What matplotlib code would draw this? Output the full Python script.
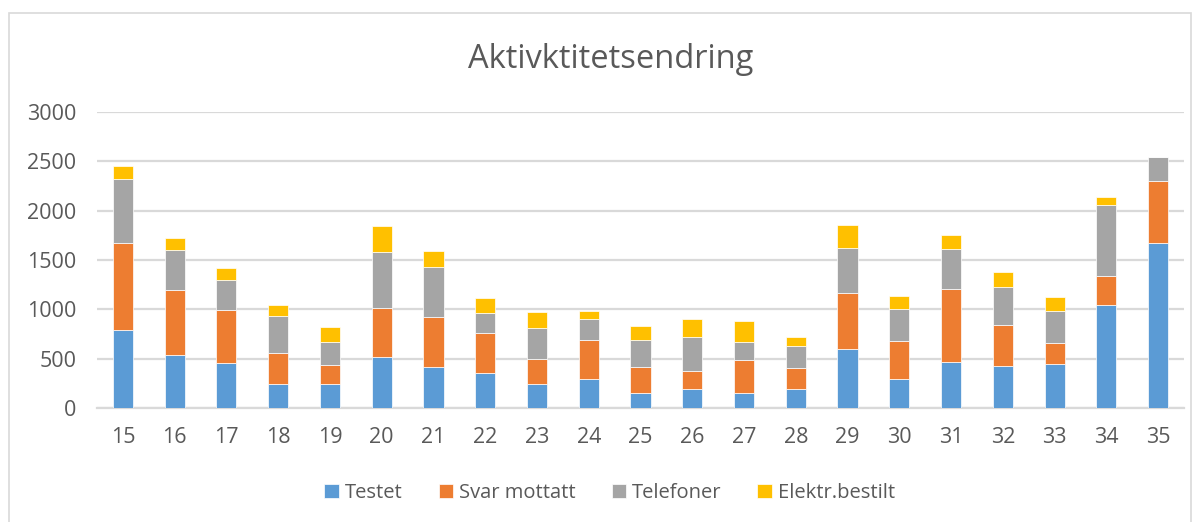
import matplotlib
matplotlib.use("Agg")
import matplotlib.pyplot as plt
from matplotlib.patches import Rectangle
import numpy as np

plt.rcParams['font.family'] = ['Open Sans', 'DejaVu Sans']

weeks = ['15', '16', '17', '18', '19', '20', '21', '22', '23', '24', '25',
         '26', '27', '28', '29', '30', '31', '32', '33', '34', '35']
testet = [790, 534, 459, 240, 247, 520, 419, 351, 240, 297, 155,
          196, 149, 189, 598, 291, 470, 429, 449, 1047, 1676]
svar_mottatt = [886, 662, 538, 321, 189, 497, 507, 406, 260, 395, 264,
                179, 341, 213, 571, 391, 739, 412, 206, 287, 624]
telefoner = [648, 405, 304, 375, 236, 564, 503, 202, 307, 207, 273,
             348, 175, 226, 456, 318, 406, 389, 328, 727, 244]
elektr_bestilt = [129, 118, 121, 108, 149, 260, 159, 156, 169, 87, 136,
                  182, 220, 88, 233, 138, 135, 152, 142, 81, 0]

series = [('Testet', testet, '#5B9BD5'),
          ('Svar mottatt', svar_mottatt, '#ED7D31'),
          ('Telefoner', telefoner, '#A5A5A5'),
          ('Elektr.bestilt', elektr_bestilt, '#FFC000')]

txt = '#595959'
grid = '#D9D9D9'

fig = plt.figure(figsize=(12, 5.22), dpi=100)
ax = fig.add_axes([97 / 1200, 1 - 408 / 522, (1184 - 97) / 1200, (408 - 112) / 522])

# chart frame
fig.patches.append(Rectangle((9 / 1200, -0.05), 1182 / 1200, 1.05 - 13 / 522,
                             transform=fig.transFigure, fill=False,
                             edgecolor=grid, linewidth=1.2))

x = np.arange(len(weeks))
bottom = np.zeros(len(weeks))
for name, vals, col in series:
    v = np.array(vals, dtype=float)
    ax.bar(x, v, 0.39, bottom=bottom, color=col, label=name,
           edgecolor='white', linewidth=0.5, zorder=3)
    bottom += v

ax.set_xlim(-0.5, len(weeks) - 0.5)
ax.set_ylim(0, 3000)
ax.set_yticks(range(0, 3001, 500))
ax.set_xticks(x)
ax.set_xticklabels(weeks)
ax.yaxis.grid(True, color=grid, linewidth=1.6, zorder=0)
for s in ['top', 'right', 'left']:
    ax.spines[s].set_visible(False)
ax.spines['bottom'].set_color(grid)
ax.spines['bottom'].set_linewidth(1.6)
ax.tick_params(axis='both', length=0, labelsize=15.5, labelcolor=txt)
ax.tick_params(axis='x', pad=14)
ax.tick_params(axis='y', pad=15)

fig.text(0.509, 1 - 59 / 522, 'Aktivktitetsendring', ha='center', va='center',
         fontsize=23.5, color=txt)

leg = fig.legend(loc='center', bbox_to_anchor=(0.508, 1 - 493 / 522), ncol=4,
                 frameon=False, fontsize=14.5, handlelength=0.7, handleheight=0.7,
                 handletextpad=0.3, columnspacing=1.8)
for t in leg.get_texts():
    t.set_color(txt)

fig.savefig('out.png', dpi=100)
